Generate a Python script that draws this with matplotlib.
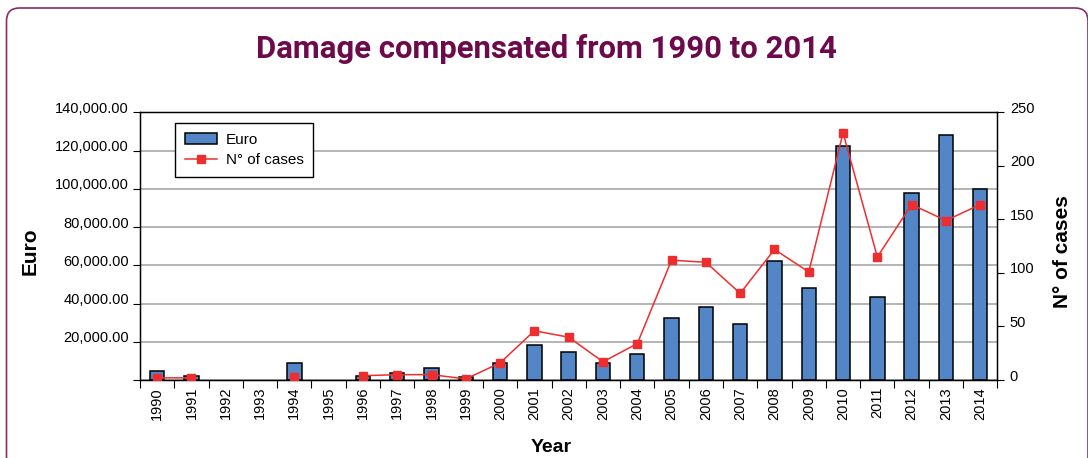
import numpy as np
import matplotlib.pyplot as plt
import matplotlib.transforms as mtransforms
from matplotlib.patches import FancyBboxPatch, Patch
from matplotlib.lines import Line2D

plt.rcParams['font.family'] = ['Liberation Sans', 'DejaVu Sans']

# Daten
years = ['1990', '1991', '1992', '1993', '1994', '1995', '1996', '1997', '1998',
         '1999', '2000', '2001', '2002', '2003', '2004', '2005', '2006', '2007',
         '2008', '2009', '2010', '2011', '2012', '2013', '2014']
euro = [4500, 1900, 0, 0, 8700, 0, 2100, 3500, 6400, 1600, 8700, 18300, 14800,
        8700, 13800, 32400, 38100, 29300, 62200, 48100, 122400, 43200, 97700,
        128300, 99800]
cases = [2, 2, np.nan, np.nan, 3, np.nan, 4, 5, 5, 1, 16, 46, 40, 17, 34, 112,
         110, 81, 122, 101, 231, 115, 164, 149, 164]

euro_ticks = [0, 20000, 40000, 60000, 80000, 100000, 120000, 140000]
case_ticks = [0, 50, 100, 150, 200, 250]

title = 'Damage compensated from 1990 to 2014'
purple = '#6c0a4b'
bar_col = '#5286c6'
line_col = '#ee2e2e'

fig = plt.figure(figsize=(10.88, 4.58), dpi=100)

# Rahmen mit runden Ecken
frame = FancyBboxPatch((0.065, -0.3), 10.815, 4.80,
                       boxstyle='round,pad=0,rounding_size=0.13',
                       transform=fig.dpi_scale_trans, facecolor='none',
                       edgecolor='#8a2c6c', linewidth=1.2)
fig.patches.append(frame)

ax = fig.add_axes([0.1287, 0.1703, 0.788, 0.5841])
x = np.arange(len(years))
# leere Jahre ohne Balkenrand
heights = [v if v else np.nan for v in euro]
ax.bar(x, heights, width=0.42, color=bar_col, edgecolor='black', linewidth=1.1, zorder=2)
ax.set_xlim(-0.5, len(years) - 0.5)
ax.set_ylim(0, 140000)
ax.set_yticks(euro_ticks)
ax.set_yticklabels(['' if v == 0 else f'{v:,.2f}' for v in euro_ticks], fontsize=10.5)
ax.yaxis.grid(True, color='#a0a0a0', linewidth=1.1)
ax.set_axisbelow(True)
ax.tick_params(axis='y', direction='out', length=5, width=0.8, pad=3)

ax.set_xticks(x)
ax.set_xticklabels(years, rotation=90, fontsize=10.5)
ax.set_xticks(np.arange(len(years) + 1) - 0.5, minor=True)
ax.tick_params(axis='x', which='major', length=0, pad=5)
ax.tick_params(axis='x', which='minor', direction='out', length=6, width=0.8)
for s in ax.spines.values():
    s.set_linewidth(1.0)

ax2 = ax.twinx()
ax2.plot(x, cases, color=line_col, linewidth=1.1, marker='s', markersize=6.3,
         markerfacecolor=line_col, markeredgecolor=line_col, zorder=3)
ax2.set_ylim(0, 250)
ax2.set_yticks(case_ticks)
ax2.set_yticklabels([str(v) for v in case_ticks], fontsize=10.5)
ax2.tick_params(axis='y', direction='out', length=5, width=0.8, pad=4)

# Beschriftungen der y-Achsen sitzen im Original etwas höher
shift = mtransforms.ScaledTranslation(0, 5 / 100, fig.dpi_scale_trans)
for lab in ax.get_yticklabels() + ax2.get_yticklabels():
    lab.set_transform(lab.get_transform() + shift)

handles = [Patch(facecolor=bar_col, edgecolor='black', linewidth=1.1),
           Line2D([], [], color=line_col, linewidth=1.1, marker='s', markersize=6.3)]
leg = ax2.legend(handles, ['Euro', 'N° of cases'], loc='upper left',
                 bbox_to_anchor=(0.041, 0.962), borderaxespad=0, fancybox=False,
                 edgecolor='black', framealpha=1, fontsize=11, handlelength=2.1,
                 handletextpad=0.55, borderpad=0.65, labelspacing=0.45)
leg.get_frame().set_linewidth(1.0)

fig.text(30 / 1088, 1 - 251 / 458, 'Euro', rotation=90, fontsize=15,
         fontweight='bold', ha='center', va='center')
fig.text(1062 / 1088, 1 - 252 / 458, 'N° of cases', rotation=90, fontsize=15,
         fontweight='bold', ha='center', va='center')
fig.text(551 / 1088, 1 - 447 / 458, 'Year', fontsize=14, fontweight='bold',
         ha='center', va='center')

# Titel auf die Breite im Original anpassen
t = fig.text(546 / 1088, 1 - 58 / 458, title, fontsize=21, fontweight='bold',
             family=['Roboto', 'DejaVu Sans'], color=purple, ha='center', va='baseline')
fig.canvas.draw()
w = t.get_window_extent().width
t.set_fontsize(21 * 584 / w)

fig.savefig('out.png', dpi=100)
